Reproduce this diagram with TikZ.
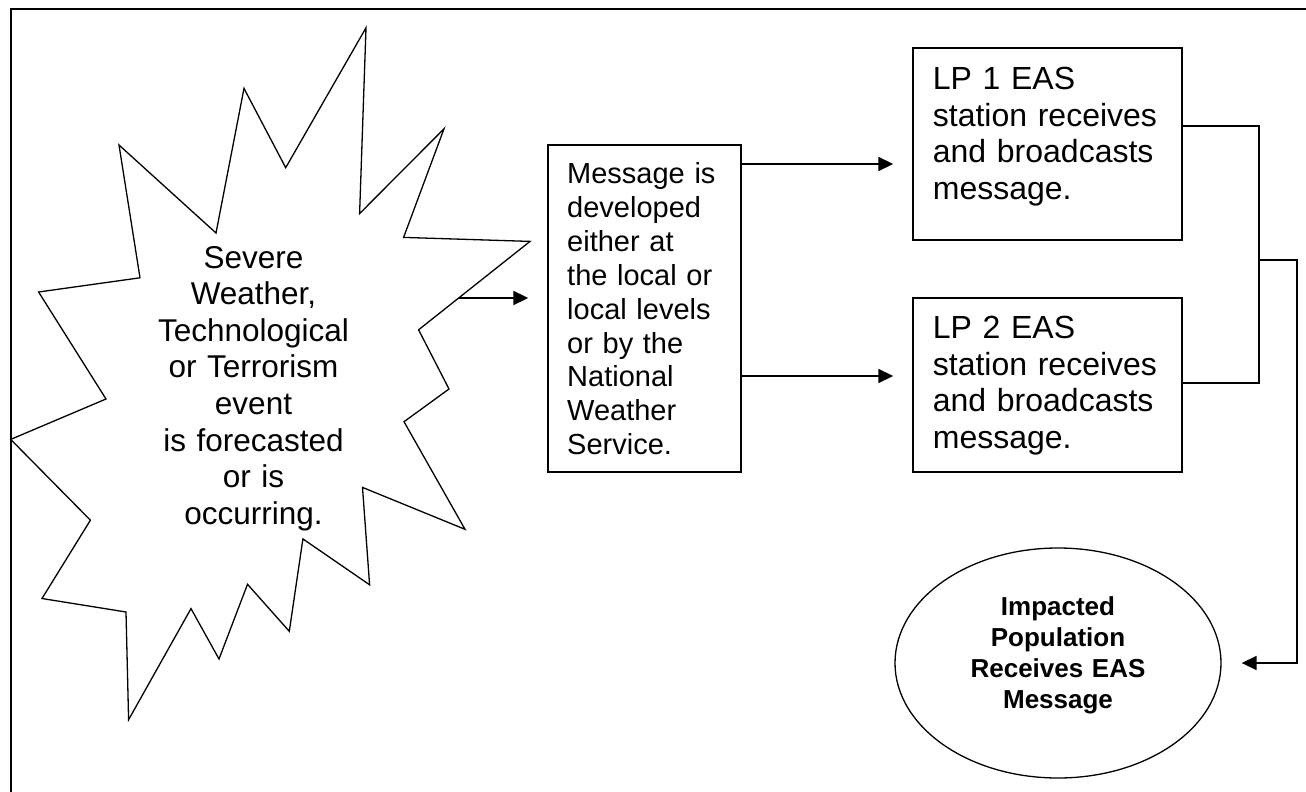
\documentclass[tikz,border=0pt]{standalone}
\usepackage{fontspec}
\setmainfont{Liberation Sans}
\usetikzlibrary{arrows.meta,shapes.geometric}
\begin{document}
\begin{tikzpicture}[x=1pt,y=-1pt,
  boxst/.style={draw, line width=1.4pt, rectangle, inner sep=0pt},
  arr/.style={line width=1.8pt, -{Triangle[length=15pt,width=14pt]}},
  conn/.style={line width=1.6pt},
  ltxt/.style={inner sep=0pt, anchor=base west, align=left, text width=#1},
  ctxt/.style={inner sep=0pt, anchor=base, align=center, text width=#1}]
\useasboundingbox (0,0) rectangle (1306,792);
% outer frame
\draw[line width=2.5pt] (1306,9) -- (11,9) -- (11,792);
% starburst
\draw[line width=1.3pt, line join=miter, fill=white]
  (10.7,439.4) -- (106,399) -- (38.6,292) -- (140,277.8) -- (119,145)
  -- (216,233) -- (244,88.4) -- (285.7,167.7) -- (366,27.8) -- (359.6,213.6)
  -- (444,128.8) -- (403.6,237.4) -- (530,241.4) -- (418.6,329.8) -- (449,389)
  -- (404,421.7) -- (465,529.3) -- (362.5,487.4) -- (369.6,584.8) -- (302.9,538.9)
  -- (289.3,631.3) -- (247.5,584.3) -- (219,659) -- (191,608.6) -- (128.6,719.7)
  -- (126,612) -- (42,598.5) -- (90.4,520.2) -- cycle;
\node[ctxt=230pt, font=\fontsize{31.5}{36.6}\selectfont] (event) at (253.5,268)
  {Severe\\Weather,\\Technological\\or Terrorism\\event\\is forecasted\\or is\\occurring.};
% message box
\node[boxst, minimum width=193pt, minimum height=327pt] (msg) at (644.5,308.5) {};
\node[ltxt=168pt, font=\fontsize{29}{33.9}\selectfont] (msgt) at (567,183.5)
  {Message is\\developed\\either at\\the local or\\local levels\\or by the\\National\\Weather\\Service.};
% LP boxes
\node[boxst, minimum width=269pt, minimum height=192pt] (lp1) at (1047.5,144) {};
\node[ltxt=240pt, font=\fontsize{32}{36.7}\selectfont] (lp1t) at (932.7,89.5)
  {LP 1 EAS\\station receives\\and broadcasts\\message.};
\node[boxst, minimum width=269pt, minimum height=174pt] (lp2) at (1047.5,385) {};
\node[ltxt=240pt, font=\fontsize{32}{36.7}\selectfont] (lp2t) at (932.7,338.5)
  {LP 2 EAS\\station receives\\and broadcasts\\message.};
% population ellipse
\node[draw, ellipse, line width=1.3pt, minimum width=326pt, minimum height=230pt, inner sep=0pt] (pop) at (1058,663) {};
\node[ctxt=220pt, font=\fontsize{26}{31}\selectfont\bfseries] (popt) at (1058,615)
  {Impacted\\Population\\Receives EAS\\Message};
% connectors
\coordinate (evout) at (458.5,298);
\draw[arr, shorten >=19pt] (evout) -- (msg.west |- evout);
\coordinate (m1) at (741,164);
\coordinate (m2) at (741,376);
\draw[arr, shorten >=19pt] (msg.east |- m1) -- (lp1.west |- m1);
\draw[arr, shorten >=19pt] (msg.east |- m2) -- (lp2.west |- m2);
\coordinate (b1) at (1259,126);
\coordinate (b2) at (1259,383);
\coordinate (bj) at (1259,260);
\coordinate (r1) at (1297,260);
\coordinate (r2) at (1297,663);
\draw[conn] (lp1.east |- b1) -- (b1) -- (b2) -- (lp2.east |- b2);
\draw[conn, -{Triangle[length=15pt,width=14pt]}, shorten >=20pt] (bj) -- (r1) -- (r2) -- (pop.east |- r2);
\end{tikzpicture}
\end{document}
